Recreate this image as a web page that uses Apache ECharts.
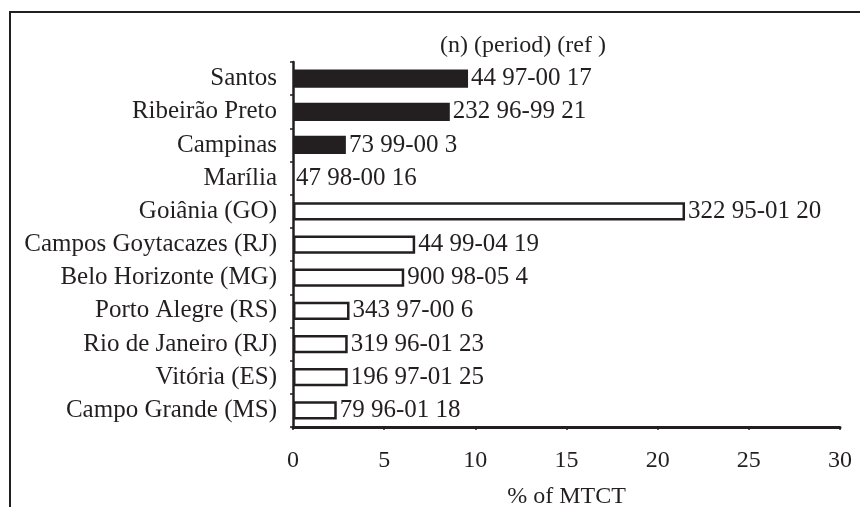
<!DOCTYPE html>
<html>
<head>
<meta charset="utf-8">
<script src="https://cdn.jsdelivr.net/npm/echarts@6/dist/echarts.min.js"></script>
<style>
  html, body { margin: 0; padding: 0; background: #fff; }
  #chart { width: 860px; height: 507px; }
</style>
</head>
<body>
<div id="chart"></div>
<script>
// Cities, top to bottom as drawn
const cities = [
  'Santos', 'Ribeirão Preto', 'Campinas', 'Marília',
  'Goiânia (GO)', 'Campos Goytacazes (RJ)', 'Belo Horizonte (MG)',
  'Porto Alegre (RS)', 'Rio de Janeiro (RJ)', 'Vitória (ES)', 'Campo Grande (MS)'
];
const mtct = [9.6, 8.6, 2.9, 0, 21.5, 6.7, 6.1, 3.1, 3.0, 3.0, 2.4];
const nCases = [44, 232, 73, 47, 322, 44, 900, 343, 319, 196, 79];
const periods = ['97-00', '96-99', '99-00', '98-00', '95-01', '99-04', '98-05', '97-00', '96-01', '97-01', '96-01'];
const refs = [17, 21, 3, 16, 20, 19, 4, 6, 23, 25, 18];
// first four (São Paulo state) drawn filled, the rest hollow
const filled = [true, true, true, true, false, false, false, false, false, false, false];
const xTicks = [0, 5, 10, 15, 20, 25, 30];

const ink = '#231f20';
const serif = '"Liberation Serif", "DejaVu Serif", serif';

const chart = echarts.init(document.getElementById('chart'));

const barData = mtct.map((v, i) => ({
  value: v,
  itemStyle: filled[i]
    ? { color: ink, borderColor: ink, borderWidth: 0 }
    : { color: '#fff', borderColor: ink, borderWidth: 2.5 }
}));

chart.setOption({
  animation: false,
  textStyle: { fontFamily: serif, color: ink },
  grid: { left: 293, right: 20, top: 62, bottom: 80, outerBoundsMode: 'none' },
  graphic: [
    {
      type: 'rect',
      shape: { x: 10, y: 12, width: 900, height: 600 },
      style: { fill: 'none', stroke: ink, lineWidth: 2 },
      silent: true
    },
    {
      type: 'text',
      left: 440,
      top: 34,
      style: { text: '(n) (period) (ref )', font: '24px ' + serif, fill: ink }
    }
  ],
  xAxis: {
    type: 'value',
    min: 0,
    max: 30,
    interval: 5,
    axisLine: { show: true, lineStyle: { color: ink, width: 3 } },
    axisTick: { show: true, length: 3, lineStyle: { color: ink, width: 1.5 } },
    splitLine: { show: false },
    axisLabel: {
      margin: 22, fontSize: 24, color: ink, fontFamily: serif,
      formatter: v => (xTicks.includes(v) ? String(v) : '')
    },
    name: '% of MTCT',
    nameLocation: 'middle',
    nameGap: 58,
    nameTextStyle: { fontSize: 24, color: ink, fontFamily: serif }
  },
  yAxis: {
    type: 'category',
    inverse: true,
    data: cities,
    axisLine: { show: true, lineStyle: { color: ink, width: 2.5 } },
    axisTick: { show: true, length: 3, lineStyle: { color: ink, width: 1.5 } },
    axisLabel: { interval: 0, margin: 16, fontSize: 25, color: ink, fontFamily: serif }
  },
  series: [{
    type: 'bar',
    data: barData,
    barCategoryGap: '45%',
    label: {
      show: true,
      position: 'right',
      distance: 3,
      fontSize: 25,
      color: ink,
      fontFamily: serif,
      formatter: p => nCases[p.dataIndex] + ' ' + periods[p.dataIndex] + ' ' + refs[p.dataIndex]
    }
  }]
});
</script>
</body>
</html>
